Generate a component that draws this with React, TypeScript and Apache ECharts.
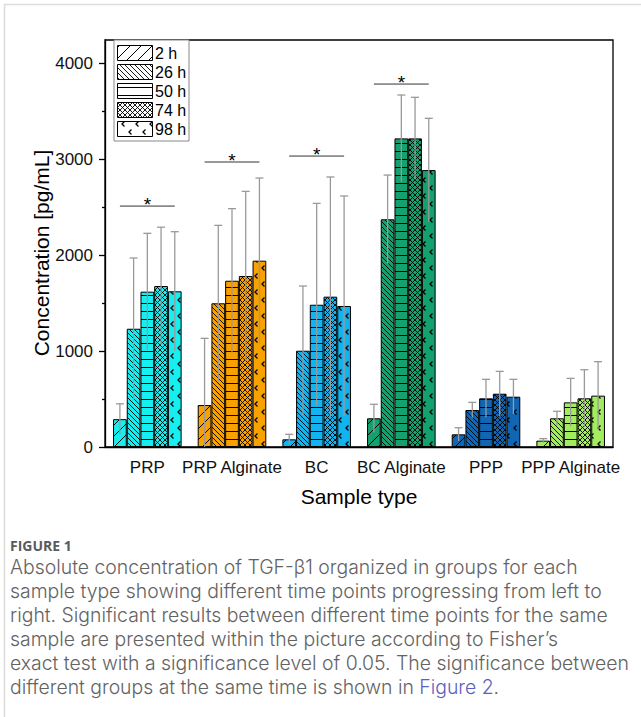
import React, { useEffect, useRef } from 'react';
import * as echarts from 'echarts';

const categories = ['PRP', 'PRP Alginate', 'BC', 'BC Alginate', 'PPP', 'PPP Alginate'];
const timeLabels = ['2 h', '26 h', '50 h', '74 h', '98 h'];
const groupColors = ['#16EEF0', '#F8A100', '#13B3F0', '#14A06F', '#1066B3', '#A2EC5E'];

// mean values per time point (pg/mL)
const mean2h = [290, 437, 80, 299, 132, 66];
const mean26h = [1232, 1497, 1003, 2372, 385, 299];
const mean50h = [1618, 1732, 1482, 3215, 507, 465];
const mean74h = [1677, 1781, 1566, 3215, 555, 507];
const mean98h = [1622, 1941, 1469, 2885, 524, 535];

// standard deviations per time point
const sd2h = [160, 695, 52, 146, 69, 21];
const sd26h = [737, 812, 674, 461, 80, 73];
const sd50h = [608, 751, 1056, 452, 198, 250];
const sd74h = [613, 882, 1247, 428, 233, 298];
const sd98h = [621, 861, 1146, 539, 181, 354];

// significance bars
const sigCategories = [0, 1, 2, 3];
const sigLevels = [2510, 2969, 3031, 3781];

const yTickValues = [0, 1000, 2000, 3000, 4000];
const yMinorTickValues = [500, 1500, 2500, 3500];

const yTitle = 'Concentration [pg/mL]';
const xTitle = 'Sample type';
const captionTitle = 'FIGURE 1';
const captionLines = [
  'Absolute concentration of TGF-β1 organized in groups for each',
  'sample type showing different time points progressing from left to',
  'right. Significant results between different time points for the same',
  'sample are presented within the picture according to Fisher’s',
  'exact test with a significance level of 0.05. The significance between',
];
const captionLastPlain = 'different groups at the same time is shown in ';
const captionLink = 'Figure 2';

const means = [mean2h, mean26h, mean50h, mean74h, mean98h];
const sds = [sd2h, sd26h, sd50h, sd74h, sd98h];
const patternKinds = ['diag', 'bdiag', 'horiz', 'cross', 'dots'];

const FONT = "'Liberation Sans', Arial, sans-serif";
const GAP = 0.19;

function makeTile(kind: string, bg: string): HTMLCanvasElement {
  const sizes: Record<string, [number, number]> = {
    diag: [11, 11],
    bdiag: [5, 5],
    horiz: [8, 8],
    cross: [5, 5],
    dots: [14, 16],
  };
  const [w, h] = sizes[kind];
  const c = document.createElement('canvas');
  c.width = w;
  c.height = h;
  const g = c.getContext('2d')!;
  g.fillStyle = bg;
  g.fillRect(0, 0, w, h);
  g.strokeStyle = '#000';
  g.lineWidth = 1;
  g.beginPath();
  if (kind === 'diag') {
    for (const k of [-w, 0, w]) {
      g.moveTo(k, h);
      g.lineTo(k + w, 0);
    }
  } else if (kind === 'bdiag') {
    g.lineWidth = 0.9;
    for (const k of [-w, 0, w]) {
      g.moveTo(k, 0);
      g.lineTo(k + w, h);
    }
  } else if (kind === 'horiz') {
    g.moveTo(0, h - 0.5);
    g.lineTo(w, h - 0.5);
  } else if (kind === 'cross') {
    g.lineWidth = 0.9;
    for (const k of [-w, 0, w]) {
      g.moveTo(k, 0);
      g.lineTo(k + w, h);
      g.moveTo(k, h);
      g.lineTo(k + w, 0);
    }
  } else if (kind === 'dots') {
    g.lineWidth = 1.3;
    const marks = [
      [3, 4],
      [10, 12],
    ];
    for (const [x, y] of marks) {
      g.moveTo(x + 2.5, y - 2.5);
      g.lineTo(x, y);
      g.lineTo(x + 2.5, y + 2.5);
    }
  }
  g.stroke();
  return c;
}

function pattern(kind: string, bg: string) {
  const img = makeTile(kind, bg);
  return { image: img, repeat: 'repeat', imageWidth: img.width, imageHeight: img.height };
}

export default function App() {
  const ref = useRef<HTMLDivElement>(null);

  useEffect(() => {
    document.body.style.margin = '0';
    if (!ref.current) return;
    const chart = echarts.init(ref.current, null, { renderer: 'svg' });

    const barSeries = means.map((m, s) => ({
      name: timeLabels[s],
      type: 'bar',
      barGap: '0%',
      barCategoryGap: GAP * 100 + '%',
      z: 2,
      itemStyle: { borderColor: '#000', borderWidth: 1 },
      data: m.map((v, i) => ({
        value: v,
        itemStyle: { color: pattern(patternKinds[s], groupColors[i]) },
      })),
    }));

    const errSeries = means.map((m, s) => ({
      type: 'custom',
      z: 3,
      silent: true,
      encode: { x: 0, y: 1 },
      data: m.map((v, i) => [i, v, sds[s][i]]),
      renderItem: (_p: any, api: any) => {
        const cat = api.value(0);
        const mv = api.value(1);
        const sd = api.value(2);
        const band = api.size([1, 0])[0];
        const bw = (band * (1 - GAP)) / 5;
        const cx = api.coord([cat, 0])[0] + (s - 2) * bw;
        const yTop = api.coord([cat, mv + sd])[1];
        const yBot = api.coord([cat, Math.max(0, mv - sd)])[1];
        const st = { stroke: '#9a9a9a', lineWidth: 1.3 };
        return {
          type: 'group',
          children: [
            { type: 'line', shape: { x1: cx, y1: yBot, x2: cx, y2: yTop }, style: st },
            { type: 'line', shape: { x1: cx - 4, y1: yTop, x2: cx + 4, y2: yTop }, style: st },
          ],
        };
      },
    }));

    const sigSeries = {
      type: 'custom',
      z: 4,
      silent: true,
      encode: { x: 0, y: 1 },
      data: sigCategories.map((c, i) => [c, sigLevels[i]]),
      renderItem: (_p: any, api: any) => {
        const cat = api.value(0);
        const lv = api.value(1);
        const band = api.size([1, 0])[0];
        const bw = (band * (1 - GAP)) / 5;
        const [cx, cy] = api.coord([cat, lv]);
        return {
          type: 'group',
          children: [
            {
              type: 'line',
              shape: { x1: cx - 2 * bw, y1: cy, x2: cx + 2 * bw, y2: cy },
              style: { stroke: '#333', lineWidth: 1 },
            },
            {
              type: 'text',
              x: cx,
              y: cy - 1.5,
              style: {
                text: '*',
                fontSize: 19,
                fontFamily: FONT,
                fill: '#000',
                align: 'center',
                verticalAlign: 'middle',
              },
            },
          ],
        };
      },
    };

    const legendChildren: any[] = [
      {
        type: 'rect',
        shape: { x: 114, y: 40, width: 75, height: 101 },
        style: { fill: '#fff', stroke: '#888', lineWidth: 1 },
      },
    ];
    timeLabels.forEach((t, i) => {
      const y = 45 + i * 19;
      legendChildren.push({
        type: 'rect',
        shape: { x: 117.5, y: y + 0.5, width: 35, height: 15 },
        style: { fill: pattern(patternKinds[i], '#ffffff'), stroke: '#000', lineWidth: 1 },
      });
      legendChildren.push({
        type: 'text',
        x: 155,
        y: y + 8.5,
        style: { text: t, fontSize: 16, fontFamily: FONT, fill: '#000', verticalAlign: 'middle', lineHeight: 17 },
      });
    });

    const captionFont = "Inter, 'Open Sans', sans-serif";
    const captionSize = 19.4;
    const captionChildren: any[] = [
      {
        type: 'text',
        x: 10,
        y: 545,
        style: {
          text: captionTitle,
          fontSize: 14,
          fontWeight: 'bold',
          fontFamily: "'Open Sans', sans-serif",
          fill: '#5a5a5a',
          verticalAlign: 'middle',
          lineHeight: 16,
        },
      },
    ];
    captionLines.forEach((line, i) => {
      captionChildren.push({
        type: 'text',
        x: 10,
        y: 567 + i * 24,
        style: {
          text: line,
          fontSize: captionSize,
          fontWeight: 300,
          fontFamily: captionFont,
          fill: '#636363',
          verticalAlign: 'middle',
          lineHeight: 22,
        },
      });
    });
    captionChildren.push({
      type: 'text',
      x: 10,
      y: 567 + 5 * 24,
      style: {
        text: captionLastPlain + '{l|' + captionLink + '}.',
        fontSize: captionSize,
        fontWeight: 300,
        fontFamily: captionFont,
        fill: '#636363',
        verticalAlign: 'middle',
        lineHeight: 22,
        rich: {
          l: { fill: '#5b5fc0', fontSize: captionSize, fontWeight: 300, fontFamily: captionFont, lineHeight: 22 },
        },
      },
    });

    const axisLine = { color: '#000', width: 1.3 };

    chart.setOption({
      animation: false,
      backgroundColor: '#fff',
      grid: {
        left: 105,
        right: 28,
        top: 40,
        bottom: 270,
        show: true,
        borderColor: '#000',
        borderWidth: 1.3,
        backgroundColor: 'transparent',
      },
      xAxis: {
        type: 'category',
        data: categories,
        axisLine: { lineStyle: axisLine },
        axisTick: { alignWithLabel: true, length: 6, lineStyle: axisLine },
        axisLabel: { interval: 0, fontSize: 17, color: '#111', fontFamily: FONT, margin: 12 },
        name: xTitle,
        nameLocation: 'middle',
        nameGap: 39,
        nameTextStyle: { fontSize: 21, color: '#000', fontFamily: FONT },
      },
      yAxis: [
        {
          type: 'value',
          min: 0,
          max: 4240,
          interval: 1000,
          axisLine: { show: true, lineStyle: axisLine },
          axisTick: { show: true, length: 6, customValues: yTickValues, lineStyle: axisLine },
          axisLabel: {
            customValues: yTickValues,
            formatter: (v: number) => String(v),
            fontSize: 17,
            color: '#111',
            fontFamily: FONT,
            margin: 12,
          },
          splitLine: { show: false },
        },
        {
          type: 'value',
          min: 0,
          max: 4240,
          interval: 500,
          position: 'left',
          axisLine: { show: false },
          axisTick: { show: true, length: 3, customValues: yMinorTickValues, lineStyle: axisLine },
          axisLabel: { show: false },
          splitLine: { show: false },
        },
      ],
      series: [...barSeries, ...errSeries, sigSeries],
      graphic: [
        {
          type: 'polyline',
          shape: { points: [[4.5, 717], [4.5, 4.5], [641, 4.5]] },
          style: { stroke: '#dcdcdc', lineWidth: 1.5, fill: null },
          z: 1,
        },
        {
          type: 'text',
          x: 41,
          y: 253,
          rotation: Math.PI / 2,
          style: {
            text: yTitle,
            fontSize: 21,
            fontFamily: FONT,
            fill: '#000',
            align: 'center',
            verticalAlign: 'middle',
          },
        },
        { type: 'group', children: legendChildren, z: 10 },
        { type: 'group', children: captionChildren },
      ],
    });

    return () => chart.dispose();
  }, []);

  return <div ref={ref} style={{ width: 641, height: 717 }} />;
}
